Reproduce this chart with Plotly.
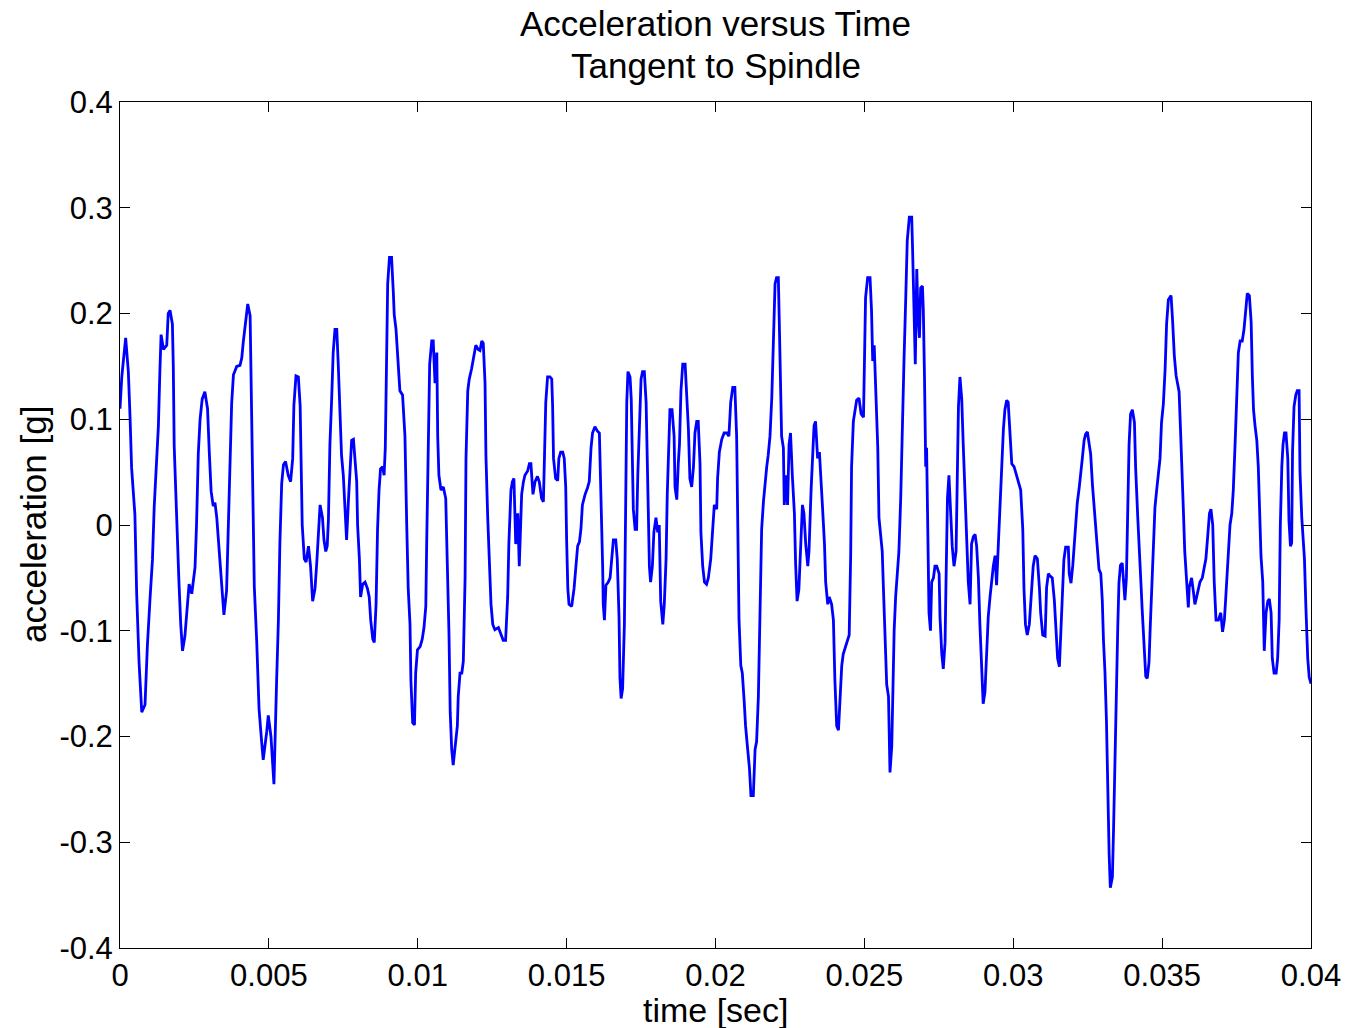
import plotly.graph_objects as go

# time in milliseconds, acceleration in g
time_ms = [
    0.00, 0.06, 0.19, 0.28, 0.34, 0.39, 0.50, 0.56, 0.64, 0.73, 0.84, 0.92, 1.01, 1.09, 1.15, 1.23, 1.29, 1.34, 1.38, 1.46,
    1.57, 1.62, 1.68, 1.76, 1.79, 1.82, 1.88, 1.94, 1.98, 2.04, 2.10, 2.18, 2.24, 2.32, 2.41, 2.52, 2.57, 2.63, 2.69, 2.76,
    2.85, 2.94, 3.00, 3.06, 3.13, 3.19, 3.25, 3.30, 3.36, 3.42, 3.49, 3.58, 3.64, 3.69, 3.75, 3.81, 3.92, 4.03, 4.09, 4.14,
    4.22, 4.29, 4.37, 4.40, 4.46, 4.51, 4.59, 4.67, 4.76, 4.81, 4.93, 4.98, 5.07,
    5.17, 5.26, 5.32, 5.37, 5.43, 5.49, 5.56, 5.65, 5.73, 5.80, 5.84, 5.91, 5.99, 6.05, 6.08, 6.12, 6.19, 6.25, 6.33, 6.40,
    6.47, 6.55, 6.61, 6.66, 6.72, 6.80, 6.85, 6.91, 6.96, 7.00, 7.05, 7.11, 7.16, 7.22, 7.28, 7.33, 7.39, 7.44, 7.50, 7.56,
    7.61, 7.67, 7.72, 7.78, 7.84, 7.89, 7.95, 7.98, 8.04, 8.08, 8.15, 8.23, 8.31, 8.37, 8.42, 8.49, 8.54, 8.60, 8.62, 8.65,
    8.70, 8.75, 8.82, 8.87, 8.91, 8.96, 8.99, 9.05, 9.12, 9.18, 9.21, 9.27, 9.35, 9.40, 9.49, 9.57, 9.63, 9.68, 9.74, 9.77,
    9.83, 9.89, 9.93, 9.99, 10.08, 10.15, 10.21, 10.27, 10.30, 10.36,
    10.40, 10.47, 10.52, 10.58, 10.64, 10.67, 10.71, 10.78, 10.86, 10.94, 11.00, 11.05, 11.09, 11.14, 11.19, 11.25, 11.33,
    11.36, 11.42, 11.48, 11.53, 11.59, 11.62, 11.68, 11.73, 11.81, 11.89, 11.95, 12.03, 12.09, 12.15, 12.20, 12.26, 12.29,
    12.35, 12.40, 12.46, 12.52, 12.59, 12.71, 12.80, 12.87, 12.95, 13.02, 13.06, 13.13, 13.18, 13.23, 13.29, 13.36, 13.41,
    13.49, 13.55, 13.60, 13.69, 13.75, 13.80, 13.87, 13.94, 14.02, 14.08, 14.16, 14.22, 14.25, 14.30, 14.36, 14.44, 14.50,
    14.53, 14.56, 14.63, 14.70, 14.74, 14.80, 14.87, 14.92, 14.97, 15.00, 15.04, 15.08, 15.17, 15.25, 15.30, 15.37, 15.43,
    15.48, 15.53,
    15.62, 15.70, 15.76, 15.82, 15.87, 15.95, 16.03, 16.10, 16.14, 16.18, 16.21, 16.23, 16.27, 16.32, 16.40, 16.46, 16.51,
    16.57, 16.65, 16.70, 16.76, 16.79, 16.83, 16.88, 16.94, 16.98, 17.02, 17.06, 17.13, 17.17, 17.21, 17.24, 17.30, 17.35,
    17.39, 17.44, 17.50, 17.55, 17.61, 17.67, 17.71, 17.74, 17.78, 17.82, 17.88, 17.93, 18.00, 18.06, 18.11, 18.16, 18.23,
    18.28, 18.34, 18.38, 18.43, 18.47, 18.54, 18.61, 18.64, 18.70, 18.75, 18.79, 18.84, 18.90, 18.98, 19.03, 19.09, 19.14,
    19.20, 19.26, 19.31, 19.37, 19.42, 19.48, 19.51, 19.57, 19.63, 19.70, 19.76, 19.84, 19.90, 19.96, 20.04, 20.07, 20.13,
    20.21, 20.29, 20.38, 20.45, 20.51, 20.58,
    20.65, 20.71, 20.74, 20.79, 20.85, 20.90, 20.96, 21.01, 21.08, 21.14, 21.19, 21.27, 21.33, 21.38, 21.44, 21.49, 21.55,
    21.61, 21.66, 21.72, 21.77, 21.83, 21.89, 21.94, 22.00, 22.05, 22.11, 22.14, 22.18, 22.22, 22.28, 22.31, 22.36, 22.42,
    22.47, 22.52, 22.58, 22.65, 22.69, 22.74, 22.80, 22.86, 22.92, 22.97, 23.03, 23.10, 23.14, 23.21, 23.26, 23.31, 23.36,
    23.43, 23.49, 23.54, 23.59, 23.66, 23.70, 23.77, 23.82, 23.90, 23.96, 24.01, 24.07, 24.13, 24.18, 24.24, 24.29, 24.37,
    24.46, 24.49, 24.54, 24.57, 24.63, 24.69, 24.74, 24.82, 24.89, 24.97, 25.00, 25.04, 25.11, 25.19, 25.24, 25.28, 25.33,
    25.38, 25.45, 25.49, 25.55, 25.60, 25.64, 25.69, 25.75, 25.81,
    25.86, 25.92, 25.95, 26.00, 26.05, 26.11, 26.16, 26.22, 26.27, 26.33, 26.39, 26.44, 26.51, 26.59, 26.62, 26.67, 26.71,
    26.76, 26.80, 26.85, 26.89, 26.95, 26.98, 27.02, 27.06, 27.09, 27.13, 27.17, 27.22, 27.26, 27.32, 27.37, 27.43, 27.51,
    27.54, 27.60, 27.65, 27.71, 27.74, 27.79, 27.84, 27.90, 27.95, 28.01, 28.08, 28.12, 28.16, 28.21, 28.27, 28.32, 28.38,
    28.44, 28.49, 28.55, 28.60, 28.66, 28.72, 28.77, 28.83, 28.88, 28.94, 28.99, 29.05, 29.11, 29.16, 29.22, 29.28, 29.33,
    29.39, 29.44, 29.50, 29.56, 29.61, 29.67, 29.72, 29.78, 29.83, 29.89, 29.95, 30.03, 30.12, 30.17, 30.25, 30.32, 30.36,
    30.41, 30.47, 30.54, 30.62, 30.67, 30.73, 30.81, 30.88, 30.92, 30.99,
    31.07, 31.12, 31.18, 31.23, 31.31, 31.38, 31.44, 31.49, 31.55, 31.60, 31.66, 31.70, 31.76, 31.85, 31.88, 31.94, 32.00,
    32.05, 32.11, 32.15, 32.21, 32.26, 32.32, 32.38, 32.43, 32.49, 32.54, 32.60, 32.66, 32.72, 32.77, 32.82, 32.88, 32.94,
    32.99, 33.03, 33.08, 33.13, 33.17, 33.22, 33.26, 33.33, 33.37, 33.42, 33.46, 33.51, 33.55, 33.60, 33.66, 33.71, 33.75,
    33.80, 33.84, 33.89, 33.94, 34.00, 34.07, 34.11, 34.18, 34.22, 34.28, 34.33, 34.39, 34.45, 34.50, 34.56, 34.60, 34.65,
    34.70, 34.76, 34.82, 34.87, 34.93, 34.98, 35.04, 35.10, 35.15, 35.21, 35.30, 35.35, 35.41, 35.47, 35.52, 35.57, 35.62,
    35.66, 35.71, 35.76, 35.82, 35.88, 35.91, 35.99, 36.05,
    36.10, 36.16, 36.22, 36.27, 36.35, 36.42, 36.47, 36.53, 36.59, 36.64, 36.70, 36.75, 36.81, 36.89, 36.97, 37.03, 37.09,
    37.13, 37.18, 37.22, 37.28, 37.34, 37.39, 37.45, 37.50, 37.56, 37.62, 37.69, 37.75, 37.81, 37.86, 37.93, 37.99, 38.03,
    38.07, 38.12, 38.18, 38.23, 38.26, 38.32, 38.38, 38.40, 38.43, 38.49, 38.55, 38.60, 38.66, 38.70, 38.76, 38.83, 38.88,
    38.93, 38.97, 39.02, 39.06, 39.11, 39.16, 39.22, 39.26, 39.31, 39.35, 39.38, 39.43, 39.49, 39.54, 39.60, 39.63, 39.69,
    39.73, 39.78, 39.83, 39.89, 39.94, 40.00,
]

acceleration_g = [
    0.11, 0.14, 0.177, 0.145, 0.10, 0.054, 0.01, -0.065, -0.13, -0.177, -0.17, -0.114, -0.069, -0.033, 0.018, 0.057, 0.094, 0.146, 0.18, 0.166,
    0.17, 0.20, 0.203, 0.19, 0.15, 0.075, 0.018, -0.015, -0.054, -0.094, -0.119, -0.105, -0.082, -0.056, -0.065, -0.04, 0.0, 0.068, 0.10, 0.119,
    0.126, 0.11, 0.068, 0.032, 0.018, 0.021, 0.007, -0.011, -0.033, -0.054, -0.085, -0.062, 0.0, 0.066, 0.115, 0.142, 0.15, 0.151, 0.158, 0.173,
    0.19, 0.209, 0.198, 0.144, 0.036, -0.058, -0.109, -0.174, -0.206, -0.222, -0.195, -0.18, -0.20,
    -0.245, -0.147, -0.09, -0.017, 0.039, 0.057, 0.06, 0.047, 0.041, 0.063, 0.113, 0.141, 0.14, 0.113, 0.058, 0.0, -0.032, -0.035, -0.02, -0.039,
    -0.072, -0.06, -0.035, -0.011, 0.019, 0.007, -0.014, -0.025, -0.02, 0.005, 0.076, 0.12, 0.163, 0.185, 0.185, 0.152, 0.094, 0.066, 0.047, 0.019,
    -0.014, 0.022, 0.055, 0.08, 0.081, 0.063, 0.041, 0.0, -0.032, -0.068, -0.056, -0.054, -0.06, -0.068, -0.09, -0.108, -0.111, -0.075, -0.039, -0.004,
    0.033, 0.053, 0.055, 0.047, 0.073, 0.152, 0.228, 0.253, 0.253, 0.22, 0.199, 0.185, 0.152, 0.127, 0.123, 0.084, 0.0, -0.06, -0.094, -0.147,
    -0.187, -0.189, -0.14, -0.118, -0.115, -0.108, -0.097, -0.077, -0.018, 0.08,
    0.152, 0.174, 0.174, 0.134, 0.163, 0.084, 0.047, 0.033, 0.036, 0.025, -0.039, -0.104, -0.177, -0.212, -0.227, -0.212, -0.19,
    -0.162, -0.14, -0.14, -0.129, -0.05, 0.063, 0.127, 0.138, 0.148, 0.163, 0.17, 0.166, 0.165, 0.174, 0.172, 0.134, 0.066,
    0.007, -0.039, -0.075, -0.094, -0.099, -0.097, -0.104, -0.109, -0.109, -0.068, -0.018, 0.033, 0.041, 0.044, -0.018, 0.011, -0.039,
    0.029, 0.041, 0.047, 0.051, 0.058, 0.058, 0.029, 0.041, 0.046, 0.041, 0.025, 0.022, 0.069, 0.116, 0.14, 0.14, 0.138,
    0.112, 0.063, 0.044, 0.042, 0.063, 0.069, 0.069, 0.063, 0.036, -0.014, -0.06, -0.075, -0.077, -0.06, -0.039, -0.02, -0.016,
    -0.004, 0.019,
    0.029, 0.035, 0.041, 0.073, 0.087, 0.093, 0.089, 0.087, 0.047, -0.011, -0.039, -0.075, -0.09, -0.057, -0.054, -0.05, -0.032,
    -0.014, -0.014, -0.032, -0.087, -0.144, -0.164, -0.155, -0.094, 0.022, 0.116, 0.145, 0.14, 0.119, 0.069, 0.015, -0.004, -0.004,
    0.047, 0.098, 0.138, 0.145, 0.145, 0.116, 0.055, -0.004, -0.039, -0.054, -0.039, -0.007, 0.007, -0.007, 0.0, -0.072, -0.094,
    -0.075, -0.032, 0.029, 0.087, 0.109, 0.109, 0.084, 0.036, 0.024, 0.058, 0.076, 0.127, 0.152, 0.152, 0.127, 0.091, 0.044,
    0.036, 0.055, 0.087, 0.098, 0.098, 0.058, -0.007, -0.039, -0.054, -0.056, -0.05, -0.032, -0.011, 0.019, 0.015, 0.044, 0.069,
    0.081, 0.087, 0.087, 0.084, 0.116, 0.13,
    0.13, 0.084, -0.011, -0.09, -0.133, -0.14, -0.165, -0.19, -0.212, -0.23, -0.256, -0.256, -0.212, -0.205, -0.162, -0.09, -0.004,
    0.022, 0.041, 0.055, 0.066, 0.084, 0.12, 0.181, 0.228, 0.234, 0.234, 0.195, 0.13, 0.084, 0.073, 0.019, 0.047, 0.019,
    0.076, 0.087, 0.047, 0.011, -0.036, -0.072, -0.061, -0.018, 0.019, 0.011, -0.018, -0.039, -0.025, 0.033, 0.073, 0.094, 0.098,
    0.063, 0.069, 0.047, 0.019, -0.018, -0.054, -0.075, -0.068, -0.075, -0.09, -0.147, -0.19, -0.194, -0.169, -0.133, -0.122, -0.115,
    -0.108, -0.104, -0.029, 0.055, 0.098, 0.112, 0.118, 0.12, 0.105, 0.102, 0.17, 0.215, 0.234, 0.234, 0.203, 0.155, 0.17,
    0.134, 0.073, 0.007, -0.011, -0.025, -0.06, -0.111, -0.151, -0.162,
    -0.234, -0.209, -0.154, -0.10, -0.068, -0.043, -0.025, 0.025, 0.091, 0.155, 0.215, 0.269, 0.291, 0.291, 0.26, 0.192, 0.152,
    0.242, 0.199, 0.177, 0.224, 0.226, 0.203, 0.138, 0.055, 0.073, -0.029, -0.083, -0.10, -0.054, -0.05, -0.039, -0.039, -0.046,
    -0.087, -0.122, -0.136, -0.111, -0.057, 0.025, 0.047, 0.011, -0.02, -0.039, -0.025, 0.044, 0.112, 0.14, 0.119, 0.076, 0.025,
    -0.014, -0.054, -0.075, -0.018, -0.011, -0.009, -0.02, -0.05, -0.094, -0.144, -0.169, -0.158, -0.111, -0.087, -0.068, -0.05, -0.039,
    -0.029, -0.057, -0.018, 0.025, 0.063, 0.091, 0.109, 0.118, 0.116, 0.091, 0.058, 0.055, 0.047, 0.041, 0.033, -0.004, -0.06,
    -0.094, -0.104, -0.094, -0.06, -0.039, -0.029, -0.032, -0.06, -0.083, -0.104,
    -0.105, -0.059, -0.046, -0.048, -0.05, -0.071, -0.097, -0.126, -0.134, -0.097, -0.059, -0.033, -0.021, -0.021, -0.046, -0.055, -0.038,
    -0.017, 0.004, 0.021, 0.034, 0.05, 0.063, 0.08, 0.086, 0.088, 0.08, 0.067, 0.038, 0.017, -0.004, -0.025, -0.042, -0.046,
    -0.071, -0.109, -0.139, -0.185, -0.248, -0.311, -0.343, -0.333, -0.286, -0.21, -0.156, -0.097, -0.055, -0.038, -0.036, -0.059, -0.071,
    -0.05, 0.013, 0.076, 0.105, 0.109, 0.097, 0.054, 0.008, -0.021, -0.05, -0.08, -0.113, -0.143, -0.145, -0.13, -0.097, -0.059,
    -0.013, 0.017, 0.034, 0.046, 0.063, 0.097, 0.114, 0.147, 0.19, 0.213, 0.217, 0.194, 0.16, 0.141, 0.135, 0.126, 0.088,
    0.063, 0.017, -0.025, -0.055, -0.078, -0.059, -0.05, -0.063,
    -0.075, -0.068, -0.06, -0.054, -0.05, -0.039, -0.032, -0.011, 0.011, 0.015, 0.0, -0.054, -0.09, -0.09, -0.083, -0.101, -0.09,
    -0.072, -0.047, -0.018, 0.0, 0.011, 0.033, 0.076, 0.116, 0.163, 0.174, 0.174, 0.185, 0.203, 0.219, 0.217, 0.192, 0.141,
    0.109, 0.094, 0.08, 0.055, 0.029, -0.029, -0.054, -0.094, -0.119, -0.083, -0.072, -0.07, -0.083, -0.126, -0.14, -0.14, -0.126,
    -0.09, 0.0, 0.055, 0.076, 0.087, 0.087, 0.063, 0.004, -0.02, -0.017, 0.069, 0.112, 0.123, 0.127, 0.127, 0.051, 0.007,
    -0.011, -0.032, -0.079, -0.126, -0.144, -0.15,
]

x_tick_vals = [0, 0.005, 0.01, 0.015, 0.02, 0.025, 0.03, 0.035, 0.04]
x_tick_text = ["0", "0.005", "0.01", "0.015", "0.02", "0.025", "0.03", "0.035", "0.04"]
y_tick_vals = [-0.4, -0.3, -0.2, -0.1, 0, 0.1, 0.2, 0.3, 0.4]
y_tick_text = ["-0.4", "-0.3", "-0.2", "-0.1", "0", "0.1", "0.2", "0.3", "0.4"]

time_s = [v / 1000.0 for v in time_ms]

FONT = "Liberation Sans, Arial, Helvetica, sans-serif"

fig = go.Figure()
fig.add_trace(go.Scatter(
    x=time_s, y=acceleration_g, mode="lines",
    line=dict(color="#0000ff", width=2.8),
    showlegend=False,
))

axis_common = dict(
    showgrid=False, zeroline=False,
    showline=True, linecolor="#000000", linewidth=1, mirror="allticks",
    ticks="inside", ticklen=10, tickwidth=1, tickcolor="#000000",
    tickfont=dict(family=FONT, size=31, color="#000000"),
)

fig.update_layout(
    width=1354, height=1028,
    paper_bgcolor="white", plot_bgcolor="white",
    margin=dict(l=120, r=43, t=102, b=80),
    xaxis=dict(range=[0, 0.04], tickvals=x_tick_vals, ticktext=x_tick_text, ticklabelstandoff=0, **axis_common),
    yaxis=dict(range=[-0.4, 0.4], tickvals=y_tick_vals, ticktext=y_tick_text, **axis_common),
    annotations=[
        dict(text="Acceleration versus Time", xref="paper", yref="paper", x=0.5, y=1 + (102 - 24) / 846,
             xanchor="center", yanchor="middle", showarrow=False,
             font=dict(family=FONT, size=35, color="#000000")),
        dict(text="Tangent to Spindle", xref="paper", yref="paper", x=0.5, y=1 + (102 - 65) / 846,
             xanchor="center", yanchor="middle", showarrow=False,
             font=dict(family=FONT, size=35, color="#000000")),
        dict(text="time [sec]", xref="paper", yref="paper", x=0.5, y=-(1010 - 948) / 846,
             xanchor="center", yanchor="middle", showarrow=False,
             font=dict(family=FONT, size=34, color="#000000")),
        dict(text="acceleration [g]", xref="paper", yref="paper", x=(33 - 120) / 1191, y=0.5,
             xanchor="center", yanchor="middle", textangle=-90, showarrow=False,
             font=dict(family=FONT, size=35, color="#000000")),
    ],
)

fig.write_html("out.html", config={"displayModeBar": False},
               post_script="document.body.style.margin='0';document.body.style.padding='0';")
